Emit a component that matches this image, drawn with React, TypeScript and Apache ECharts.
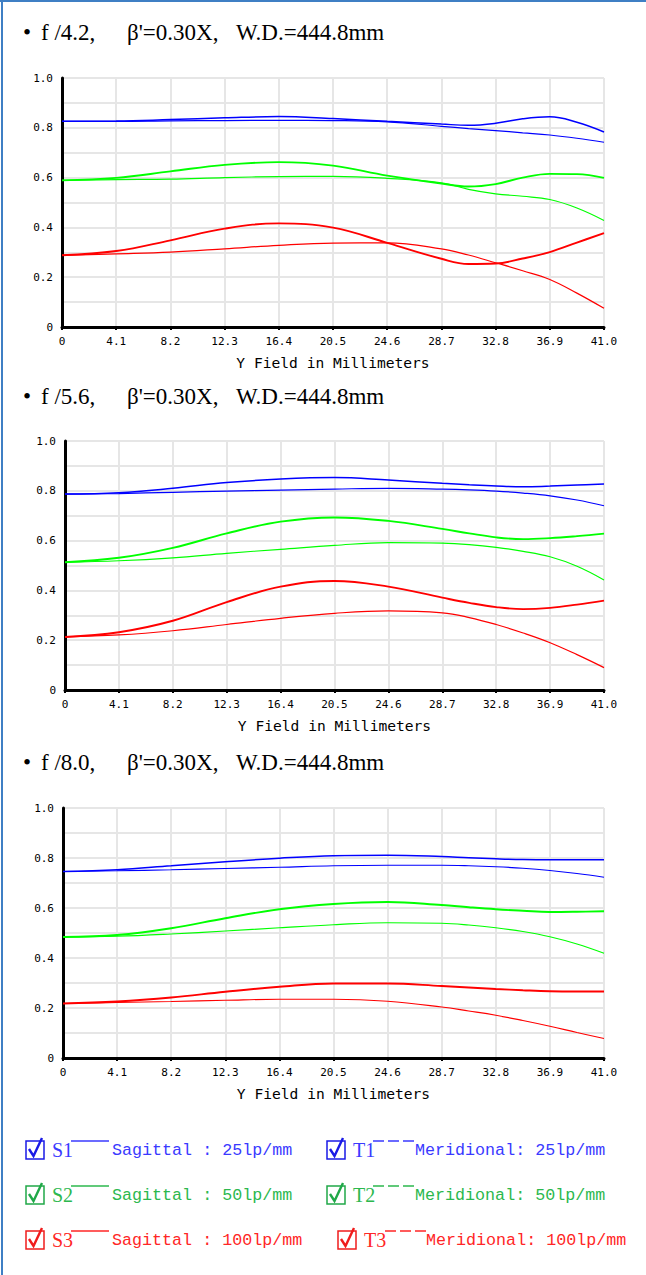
import React, { useEffect, useRef } from "react";
import * as echarts from "echarts";

// Field positions (mm)
const X_FIELD = [0, 4.1, 8.2, 12.3, 16.4, 20.5, 24.6, 28.7, 30.75, 32.8, 34.85, 36.9, 38.95, 41];

// Chart 1: f/4.2
const C1_T1 = [0.826, 0.827, 0.833, 0.84, 0.845, 0.837, 0.826, 0.815, 0.81, 0.818, 0.836, 0.844, 0.822, 0.783];
const C1_S1 = [0.826, 0.826, 0.828, 0.829, 0.83, 0.829, 0.824, 0.806, 0.797, 0.789, 0.78, 0.771, 0.758, 0.742];
const C1_T2 = [0.589, 0.599, 0.625, 0.651, 0.662, 0.648, 0.608, 0.576, 0.564, 0.574, 0.6, 0.615, 0.614, 0.599];
const C1_S2 = [0.589, 0.592, 0.594, 0.6, 0.604, 0.605, 0.597, 0.579, 0.553, 0.535, 0.525, 0.512, 0.478, 0.428];
const C1_T3 = [0.288, 0.305, 0.348, 0.395, 0.416, 0.399, 0.338, 0.274, 0.253, 0.255, 0.275, 0.301, 0.339, 0.377];
const C1_S3 = [0.288, 0.294, 0.301, 0.314, 0.328, 0.337, 0.338, 0.314, 0.289, 0.258, 0.226, 0.191, 0.136, 0.075];

// Chart 2: f/5.6
const C2_T1 = [0.787, 0.792, 0.81, 0.833, 0.847, 0.853, 0.843, 0.83, 0.824, 0.819, 0.816, 0.819, 0.823, 0.827];
const C2_S1 = [0.787, 0.789, 0.794, 0.799, 0.803, 0.807, 0.81, 0.807, 0.804, 0.799, 0.791, 0.78, 0.763, 0.74];
const C2_T2 = [0.513, 0.531, 0.571, 0.629, 0.676, 0.693, 0.679, 0.647, 0.629, 0.613, 0.606, 0.61, 0.618, 0.628];
const C2_S2 = [0.513, 0.519, 0.531, 0.549, 0.565, 0.581, 0.592, 0.59, 0.584, 0.573, 0.557, 0.535, 0.497, 0.442];
const C2_T3 = [0.213, 0.232, 0.278, 0.353, 0.415, 0.438, 0.415, 0.371, 0.35, 0.333, 0.325, 0.33, 0.343, 0.359];
const C2_S3 = [0.213, 0.221, 0.238, 0.263, 0.288, 0.308, 0.318, 0.31, 0.291, 0.263, 0.229, 0.19, 0.142, 0.09];

// Chart 3: f/8.0
const C3_T1 = [0.746, 0.753, 0.769, 0.785, 0.799, 0.809, 0.811, 0.806, 0.801, 0.797, 0.794, 0.793, 0.793, 0.793];
const C3_S1 = [0.746, 0.749, 0.753, 0.758, 0.763, 0.769, 0.771, 0.771, 0.769, 0.765, 0.759, 0.75, 0.738, 0.723];
const C3_T2 = [0.484, 0.492, 0.519, 0.559, 0.595, 0.616, 0.624, 0.612, 0.603, 0.595, 0.589, 0.584, 0.585, 0.587];
const C3_S2 = [0.484, 0.487, 0.496, 0.508, 0.521, 0.533, 0.541, 0.539, 0.532, 0.521, 0.506, 0.485, 0.456, 0.419];
const C3_T3 = [0.218, 0.226, 0.242, 0.265, 0.285, 0.298, 0.298, 0.288, 0.282, 0.276, 0.271, 0.267, 0.266, 0.266];
const C3_S3 = [0.218, 0.222, 0.226, 0.231, 0.235, 0.235, 0.227, 0.204, 0.188, 0.171, 0.15, 0.127, 0.102, 0.078];

const HEADINGS = [
  ["f /4.2,", "β'=0.30X,", "W.D.=444.8mm"],
  ["f /5.6,", "β'=0.30X,", "W.D.=444.8mm"],
  ["f /8.0,", "β'=0.30X,", "W.D.=444.8mm"],
];
const AXIS_NAME = "Y Field in Millimeters";

const LEGEND_S = ["S1", "S2", "S3"];
const LEGEND_S_TEXT = ["Sagittal : 25lp/mm", "Sagittal : 50lp/mm", "Sagittal : 100lp/mm"];
const LEGEND_T = ["T1", "T2", "T3"];
const LEGEND_T_TEXT = ["Meridional: 25lp/mm", "Meridional: 50lp/mm", "Meridional: 100lp/mm"];

const LINE_COLORS = ["#0000ff", "#00ff00", "#ff0000"];
const LEGEND_COLORS = ["#3a3aff", "#2cb84e", "#ff2626"];
const BOX_COLORS = ["#1a1ae6", "#20a848", "#f01c1c"];

const CHART_DATA = [
  [C1_T1, C1_S1, C1_T2, C1_S2, C1_T3, C1_S3],
  [C2_T1, C2_S1, C2_T2, C2_S2, C2_T3, C2_S3],
  [C3_T1, C3_S1, C3_T2, C3_S2, C3_T3, C3_S3],
];

const GRIDS = [
  { left: 62, top: 78, width: 542, height: 249 },
  { left: 65, top: 441, width: 539, height: 249 },
  { left: 63, top: 808, width: 541, height: 250 },
];
const HEAD_Y = [32, 396, 762];

const MONO = '"DejaVu Sans Mono", monospace';
const SERIF = '"Liberation Serif", serif';
const LMONO = '"Liberation Mono", monospace';

export default function App() {
  const ref = useRef<HTMLDivElement>(null);
  useEffect(() => {
    if (!ref.current) return;
    const chart = echarts.init(ref.current, undefined, { renderer: "svg" });

    const xAxes: any[] = [];
    const yAxes: any[] = [];
    const series: any[] = [];
    GRIDS.forEach((g, i) => {
      xAxes.push({
        type: "value",
        gridIndex: i,
        min: 0,
        max: 41,
        interval: 4.1,
        name: AXIS_NAME,
        nameLocation: "middle",
        nameGap: 28,
        nameTextStyle: { fontFamily: MONO, fontSize: 14.6, color: "#000" },
        axisLine: { show: true, onZero: false, lineStyle: { color: "#000", width: 3 } },
        axisTick: { show: true, length: 3, lineStyle: { color: "#000", width: 2 } },
        axisLabel: {
          fontFamily: MONO,
          fontSize: 11,
          color: "#000",
          margin: 9,
          formatter: (v: number) => (v === 0 ? "0" : v.toFixed(1)),
        },
        splitLine: { show: true, lineStyle: { color: "#e6e6e6", width: 2 } },
      });
      yAxes.push({
        type: "value",
        gridIndex: i,
        min: 0,
        max: 1,
        interval: 0.1,
        axisLine: { show: true, onZero: false, lineStyle: { color: "#000", width: 3 } },
        axisTick: { show: false },
        axisLabel: {
          fontFamily: MONO,
          fontSize: 11,
          color: "#000",
          margin: 9,
          formatter: (v: number) => {
            const r = Math.round(v * 10);
            if (r % 2 !== 0) return "";
            return r === 0 ? "0" : (r / 10).toFixed(1);
          },
        },
        splitLine: { show: true, lineStyle: { color: "#e6e6e6", width: 2 } },
      });
      CHART_DATA[i].forEach((vals, k) => {
        const colorIdx = Math.floor(k / 2);
        const isT = k % 2 === 0;
        const w = isT ? (colorIdx === 0 ? 1.5 : 1.9) : 1.2;
        series.push({
          type: "line",
          xAxisIndex: i,
          yAxisIndex: i,
          data: X_FIELD.map((x, j) => [x, vals[j]]),
          smooth: 0.4,
          showSymbol: false,
          lineStyle: { color: LINE_COLORS[colorIdx], width: w },
          z: isT ? 3 : 2,
        });
      });
    });

    const graphic: any[] = [];
    // page border
    graphic.push({ type: "rect", shape: { x: 0, y: 0, width: 646, height: 2 }, style: { fill: "#3f7fc4" } });
    graphic.push({ type: "rect", shape: { x: 1, y: 0, width: 2, height: 1275 }, style: { fill: "#3f7fc4" } });

    // headings
    HEADINGS.forEach((h, i) => {
      const y = HEAD_Y[i];
      const font = { fontFamily: SERIF, fontSize: 23, fill: "#000", verticalAlign: "middle" };
      graphic.push({ type: "text", x: 23, y, style: { ...font, text: "•" } });
      graphic.push({ type: "text", x: 41, y, style: { ...font, text: h[0] } });
      graphic.push({ type: "text", x: 127, y, style: { ...font, text: h[1] } });
      graphic.push({ type: "text", x: 236, y, style: { ...font, text: h[2] } });
    });

    // legend
    const checkbox = (x: number, y: number, c: string) => [
      { type: "rect", shape: { x, y: y - 9, width: 18, height: 18 }, style: { fill: "none", stroke: c, lineWidth: 1.5 } },
      {
        type: "polyline",
        shape: { points: [[x + 3, y - 1], [x + 7.5, y + 6], [x + 16, y - 12]] },
        style: { fill: "none", stroke: c, lineWidth: 2.4 },
      },
    ];
    for (let r = 0; r < 3; r++) {
      const y = 1150 + 45 * r;
      const c = LEGEND_COLORS[r];
      const bc = BOX_COLORS[r];
      graphic.push(...checkbox(26, y, bc));
      graphic.push({ type: "text", x: 52, y, style: { text: LEGEND_S[r], fontFamily: SERIF, fontSize: 20, fill: c, verticalAlign: "middle" } });
      graphic.push({ type: "line", shape: { x1: 71, y1: y - 9, x2: 109, y2: y - 9 }, style: { stroke: c, lineWidth: 1.5 } });
      graphic.push({ type: "text", x: 112, y, style: { text: LEGEND_S_TEXT[r], fontFamily: LMONO, fontSize: 16.7, fill: c, verticalAlign: "middle" } });
      const bx = r === 2 ? 338 : 327;
      const tx = r === 2 ? 364 : 353;
      const lx = r === 2 ? 385 : 373;
      const mx = r === 2 ? 426 : 415;
      graphic.push(...checkbox(bx, y, bc));
      graphic.push({ type: "text", x: tx, y, style: { text: LEGEND_T[r], fontFamily: SERIF, fontSize: 20, fill: c, verticalAlign: "middle" } });
      graphic.push({ type: "line", shape: { x1: lx, y1: y - 9, x2: lx + 41, y2: y - 9 }, style: { stroke: c, lineWidth: 1.5, lineDash: [11, 4] } });
      graphic.push({ type: "text", x: mx, y, style: { text: LEGEND_T_TEXT[r], fontFamily: LMONO, fontSize: 16.7, fill: c, verticalAlign: "middle" } });
    }

    chart.setOption({
      animation: false,
      backgroundColor: "#fff",
      grid: GRIDS.map((g) => ({ ...g, containLabel: false })),
      xAxis: xAxes,
      yAxis: yAxes,
      series,
      graphic,
    });
    return () => chart.dispose();
  }, []);
  return <div ref={ref} style={{ position: "absolute", left: 0, top: 0, width: 646, height: 1275 }} />;
}
